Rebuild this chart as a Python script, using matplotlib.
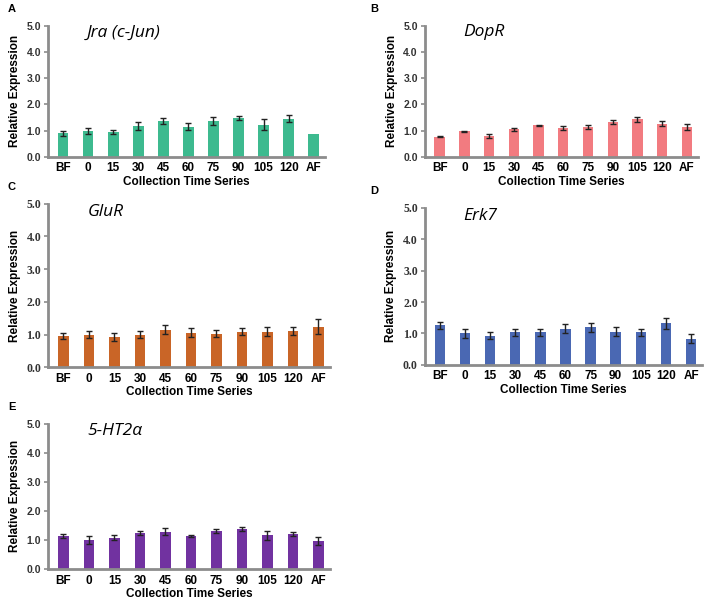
import numpy as np
import matplotlib.pyplot as plt

times = ["BF", "0", "15", "30", "45", "60", "75", "90", "105", "120", "AF"]

jra = [0.90, 1.00, 0.94, 1.18, 1.37, 1.15, 1.37, 1.47, 1.23, 1.45, 0.87]
jra_err = [0.10, 0.12, 0.08, 0.15, 0.10, 0.14, 0.16, 0.08, 0.22, 0.13, 0.0]

dopr = [0.77, 0.97, 0.80, 1.05, 1.20, 1.10, 1.14, 1.33, 1.44, 1.27, 1.14]
dopr_err = [0.03, 0.02, 0.08, 0.06, 0.03, 0.08, 0.08, 0.07, 0.10, 0.09, 0.12]

glur = [0.95, 1.00, 0.92, 1.00, 1.15, 1.06, 1.03, 1.09, 1.09, 1.11, 1.24]
glur_err = [0.10, 0.12, 0.12, 0.10, 0.13, 0.15, 0.12, 0.10, 0.15, 0.13, 0.22]

erk7 = [1.26, 1.00, 0.92, 1.03, 1.03, 1.15, 1.19, 1.06, 1.03, 1.32, 0.83]
erk7_err = [0.11, 0.13, 0.11, 0.12, 0.12, 0.14, 0.13, 0.14, 0.12, 0.18, 0.15]

ht2a = [1.13, 0.99, 1.08, 1.25, 1.29, 1.14, 1.32, 1.38, 1.16, 1.22, 0.97]
ht2a_err = [0.07, 0.14, 0.08, 0.06, 0.11, 0.05, 0.07, 0.08, 0.16, 0.07, 0.13]

panels = [
    # letter, gene, values, errors, color, axes rect, serif y ticks
    ("A", "Jra (c-Jun)", jra, jra_err, "#3dba8f", [0.068, 0.739, 0.391, 0.218], False),
    ("B", "DopR", dopr, dopr_err, "#f27b80", [0.600, 0.739, 0.386, 0.218], False),
    ("C", "GluR", glur, glur_err, "#c96527", [0.068, 0.389, 0.398, 0.272], True),
    ("D", "Erk7", erk7, erk7_err, "#4a68b3", [0.600, 0.393, 0.392, 0.261], True),
    ("E", "5-HT2\u03b1", ht2a, ht2a_err, "#7132a0", [0.068, 0.053, 0.398, 0.242], False),
]

plt.rcParams['font.family'] = ['Liberation Sans', 'DejaVu Sans']

fig = plt.figure(figsize=(7.08, 6.01), dpi=100)
x = np.arange(len(times))
gray = "#8c8c8c"

for letter, gene, vals, errs, color, rect, serif in panels:
    ax = fig.add_axes(rect)
    err = [e if e > 0 else np.nan for e in errs]
    ax.bar(x, vals, width=0.42, color=color, zorder=2)
    ax.errorbar(x, vals, yerr=err, fmt="none", ecolor="#222222", elinewidth=1.0,
                capsize=2, capthick=1.0, zorder=3)
    ax.set_ylim(0, 5)
    ax.set_xlim(-0.6, 10.45)
    ax.set_yticks(np.arange(0, 5.1, 1.0))
    ax.set_yticklabels([f"{v:.1f}" for v in np.arange(0, 5.1, 1.0)],
                       fontweight="bold", fontsize=8.5 if serif else 7.5,
                       family="Liberation Serif" if serif else "Liberation Sans",
                       color="#333333")
    ax.set_xticks(x)
    ax.set_xticklabels(times, fontweight="bold", fontsize=8.5)
    ax.tick_params(axis="x", length=0, pad=4)
    ax.tick_params(axis="y", length=3, width=1.2, color=gray, pad=2)
    for s in ["top", "right"]:
        ax.spines[s].set_visible(False)
    for s in ["left", "bottom"]:
        ax.spines[s].set_color(gray)
        ax.spines[s].set_linewidth(2)
    ax.set_ylabel("Relative Expression", fontweight="bold", fontsize=8.5, labelpad=4)
    ax.set_xlabel("Collection Time Series", fontweight="bold", fontsize=8.5, labelpad=1)
    ax.text(0.14, 0.95, gene, transform=ax.transAxes, fontstyle="italic",
            fontsize=12.5, va="center", ha="left", family="Open Sans")
    pos = ax.get_position()
    fig.text(0.011 if pos.x0 < 0.3 else 0.523, pos.y1 + 0.028, letter,
             fontweight="bold", fontsize=8, ha="left", va="center")

fig.savefig("out.png", dpi=100)
